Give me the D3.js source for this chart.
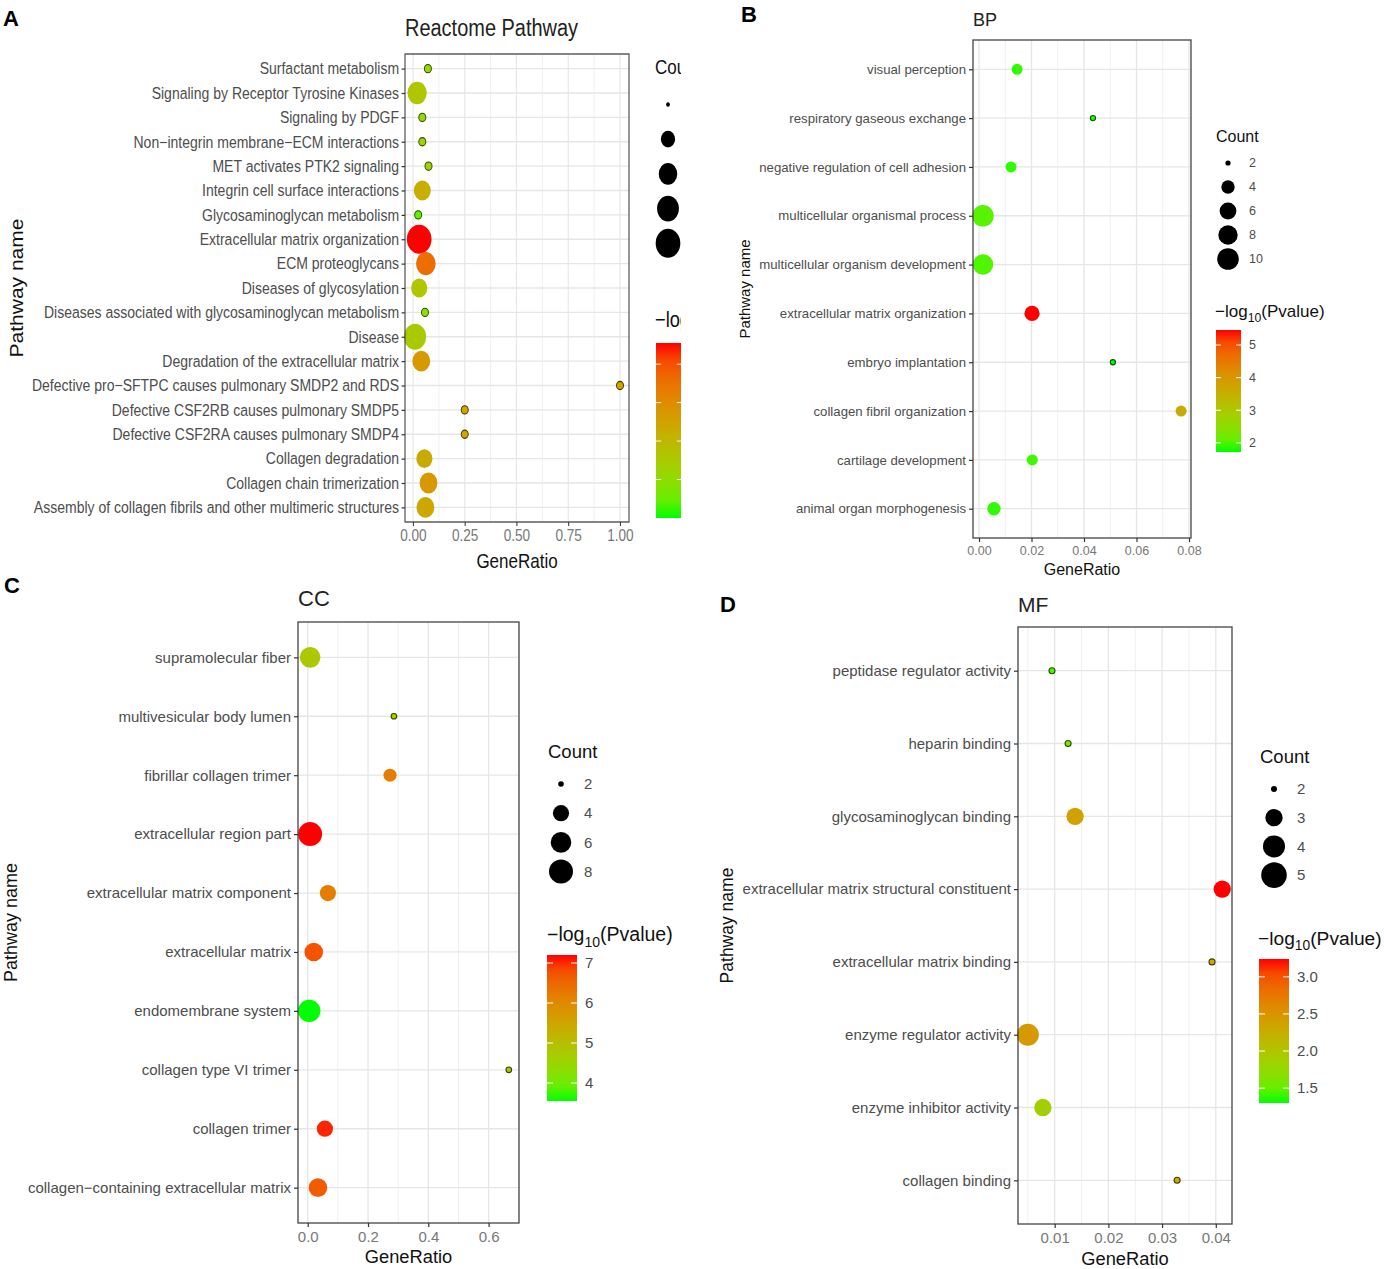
<!DOCTYPE html>
<html>
<head>
<meta charset="utf-8">
<script src="https://cdn.jsdelivr.net/npm/d3@7"></script>
<style>
  body { margin: 0; background: #fff; }
  text { font-family: "Liberation Sans", Arial, sans-serif; }
</style>
</head>
<body>
<div id="chart"></div>
<script>
// ---------- data ----------
// A: Reactome pathways (top to bottom)
const aTerms = ["Surfactant metabolism", "Signaling by Receptor Tyrosine Kinases", "Signaling by PDGF",
  "Non\u2212integrin membrane\u2212ECM interactions", "MET activates PTK2 signaling", "Integrin cell surface interactions",
  "Glycosaminoglycan metabolism", "Extracellular matrix organization", "ECM proteoglycans", "Diseases of glycosylation",
  "Diseases associated with glycosaminoglycan metabolism", "Disease", "Degradation of the extracellular matrix",
  "Defective pro\u2212SFTPC causes pulmonary SMDP2 and RDS", "Defective CSF2RB causes pulmonary SMDP5",
  "Defective CSF2RA causes pulmonary SMDP4", "Collagen degradation", "Collagen chain trimerization",
  "Assembly of collagen fibrils and other multimeric structures"];
const aRatio = [0.072, 0.02, 0.045, 0.045, 0.075, 0.045, 0.025, 0.03, 0.062, 0.03, 0.058, 0.01, 0.04, 1.0, 0.25, 0.25, 0.055, 0.075, 0.06];
const aCount = [11, 32, 11, 11, 11, 26, 11, 50, 33, 24, 11, 41, 28, 11, 11, 11, 24, 28, 28];
const aLogP = [2.1, 2.6, 2.1, 2.1, 2.3, 3.2, 1.4, 5.55, 4.6, 2.6, 1.9, 2.5, 3.7, 3.5, 3.4, 3.4, 3.3, 3.7, 3.4];
const aTicks = [0, 0.25, 0.5, 0.75, 1];
const aCountBreaks = [10, 20, 30, 40, 50];
const aColorTicks = [2, 3, 4, 5];

// B: GO biological process
const bTerms = ["visual perception", "respiratory gaseous exchange", "negative regulation of cell adhesion",
  "multicellular organismal process", "multicellular organism development", "extracellular matrix organization",
  "embryo implantation", "collagen fibril organization", "cartilage development", "animal organ morphogenesis"];
const bRatio = [0.0145, 0.0434, 0.0122, 0.0015, 0.0015, 0.0202, 0.051, 0.077, 0.0203, 0.0057];
const bCount = [3, 2, 3, 10, 9, 5, 2, 3, 3, 4];
const bLogP = [1.8, 1.75, 1.8, 2.0, 1.95, 5.46, 1.72, 3.6, 1.85, 1.8];
const bTicks = [0, 0.02, 0.04, 0.06, 0.08];
const bCountBreaks = [2, 4, 6, 8, 10];
const bColorTicks = [2, 3, 4, 5];

// C: GO cellular component
const cTerms = ["supramolecular fiber", "multivesicular body lumen", "fibrillar collagen trimer", "extracellular region part",
  "extracellular matrix component", "extracellular matrix", "endomembrane system", "collagen type VI trimer",
  "collagen trimer", "collagen\u2212containing extracellular matrix"];
const cRatio = [0.008, 0.286, 0.273, 0.008, 0.067, 0.02, 0.005, 0.667, 0.057, 0.034];
const cCount = [6, 2, 3, 8, 4, 5, 7, 2, 4, 5];
const cLogP = [4.8, 4.65, 6.2, 7.2, 6.2, 6.75, 3.55, 4.8, 7.1, 6.65];
const cTicks = [0, 0.2, 0.4, 0.6];
const cCountBreaks = [2, 4, 6, 8];
const cColorTicks = [4, 5, 6, 7];

// D: GO molecular function
const dTerms = ["peptidase regulator activity", "heparin binding", "glycosaminoglycan binding",
  "extracellular matrix structural constituent", "extracellular matrix binding", "enzyme regulator activity",
  "enzyme inhibitor activity", "collagen binding"];
const dRatio = [0.0095, 0.0125, 0.0138, 0.0412, 0.0393, 0.005, 0.0078, 0.0328];
const dCount = [2, 2, 3, 3, 2, 4, 3, 2];
const dLogP = [1.4, 1.6, 2.37, 3.24, 2.27, 2.46, 1.88, 2.27];
const dTicks = [0.01, 0.02, 0.03, 0.04];
const dCountBreaks = [2, 3, 4, 5];
const dColorTicks = [1.5, 2.0, 2.5, 3.0];

// ---------- drawing ----------
const svg = d3.select("#chart").append("svg")
  .attr("width", 1384).attr("height", 1269);
const defs = svg.append("defs");
const ramp = d3.interpolateLab("#00ff00", "#ff0000");

function minors(ticks) {
  const out = [];
  for (let i = 0; i < ticks.length - 1; i++) out.push((ticks[i] + ticks[i + 1]) / 2);
  return out;
}

function drawPanel(p) {
  const sx = p.sx || 1;
  const X = v => v / sx;   // target px -> local px (panel A is squeezed)
  const outer = svg.append("g");
  if (p.clipX) {
    defs.append("clipPath").attr("id", "clip" + p.id)
      .append("rect").attr("x", 0).attr("y", 0).attr("width", p.clipX).attr("height", 1269);
    outer.attr("clip-path", `url(#clip${p.id})`);
  }
  const g = outer.append("g").attr("transform", `scale(${sx},1)`);
  const [bx0, by0, bx1, by1] = p.box;

  const x = d3.scaleLinear().domain(p.xDomain).range([X(bx0), X(bx1)]);
  const y = d3.scalePoint().domain(p.terms).range([by0, by1]).padding(0.6);
  const col = d3.scaleSequential(ramp).domain(p.colorDomain);
  const [c0, c1] = p.countDomain;
  const rad = c => p.rMin + (p.rMax - p.rMin) * Math.sqrt((c - c0) / (c1 - c0));

  // grid
  g.selectAll(".gmin").data(minors(p.xTicks).concat(p.extraMinor || [])).enter().append("line")
    .attr("x1", d => x(d)).attr("x2", d => x(d)).attr("y1", by0).attr("y2", by1)
    .attr("stroke", "#efefef").attr("stroke-width", 1);
  g.selectAll(".gmaj").data(p.xTicks).enter().append("line")
    .attr("x1", d => x(d)).attr("x2", d => x(d)).attr("y1", by0).attr("y2", by1)
    .attr("stroke", "#e6e6e6").attr("stroke-width", 1.3);
  g.selectAll(".gy").data(p.terms).enter().append("line")
    .attr("x1", X(bx0)).attr("x2", X(bx1)).attr("y1", d => y(d)).attr("y2", d => y(d))
    .attr("stroke", "#e6e6e6").attr("stroke-width", 1.3);

  // points (the smallest ones show a dark rim in the original)
  const pts = p.terms.map((t, i) => ({ t, r: p.ratio[i], c: p.count[i], v: p.logp[i] }));
  g.selectAll(".pt").data(pts).enter().append("circle")
    .attr("cx", d => x(d.r)).attr("cy", d => y(d.t)).attr("r", d => rad(d.c))
    .attr("fill", d => col(d.v))
    .attr("stroke", d => rad(d.c) < 5 ? d3.color(col(d.v)).darker(3) : "none")
    .attr("stroke-width", 1.1);

  // border
  g.append("rect").attr("x", X(bx0)).attr("y", by0)
    .attr("width", X(bx1) - X(bx0)).attr("height", by1 - by0)
    .attr("fill", "none").attr("stroke", "#444").attr("stroke-width", 1.3);

  // axes
  const ay = g.append("g").attr("transform", `translate(${X(bx0)},0)`)
    .call(d3.axisLeft(y).tickSize(4).tickPadding(3));
  const ax = g.append("g").attr("transform", `translate(0,${by1})`)
    .call(d3.axisBottom(x).tickValues(p.xTicks).tickFormat(d3.format(p.fmt)).tickSize(4).tickPadding(4));
  [ay, ax].forEach(a => {
    a.select(".domain").remove();
    a.selectAll(".tick line").attr("stroke", "#333").attr("stroke-width", 1.2);
    a.attr("font-family", null);
  });
  ay.selectAll("text").attr("font-size", p.fsY).attr("fill", "#4d4d4d");
  ax.selectAll("text").attr("font-size", p.fsX).attr("fill", "#777");

  // titles
  g.append("text").attr("x", X(p.titleX)).attr("y", p.titleY + p.fsTitle * 0.35)
    .attr("font-size", p.fsTitle).attr("fill", "#222").text(p.title);
  g.append("text").attr("x", X((bx0 + bx1) / 2)).attr("y", p.xlabY + p.fsXlab * 0.35)
    .attr("text-anchor", "middle").attr("font-size", p.fsXlab).attr("fill", "#111").text("GeneRatio");
  g.append("text")
    .attr("transform", `translate(${X(p.ylabX + p.fsYlab * 0.35)},${(by0 + by1) / 2}) rotate(-90)`)
    .attr("text-anchor", "middle").attr("font-size", p.fsYlab).attr("fill", "#111").text("Pathway name");

  // size legend
  const L = p.countLeg;
  g.append("text").attr("x", X(L.titleX)).attr("y", L.titleY + L.fsTitle * 0.35)
    .attr("font-size", L.fsTitle).attr("fill", "#111").text("Count");
  p.countBreaks.forEach((c, i) => {
    const cy = L.y0 + i * L.dy;
    g.append("circle").attr("cx", X(L.cx)).attr("cy", cy).attr("r", rad(c)).attr("fill", "#000");
    g.append("text").attr("x", X(L.labelX)).attr("y", cy + L.fsLab * 0.35)
      .attr("font-size", L.fsLab).attr("fill", "#4d4d4d").text(c);
  });

  // colour bar legend
  const C = p.colorLeg;
  const tt = g.append("text").attr("x", X(C.titleX)).attr("y", C.titleY + C.fsTitle * 0.35)
    .attr("font-size", C.fsTitle).attr("fill", "#111");
  tt.append("tspan").text("\u2212log");
  tt.append("tspan").attr("dy", C.fsTitle * 0.3).attr("font-size", C.fsTitle * 0.72).text("10");
  tt.append("tspan").attr("dy", -C.fsTitle * 0.3).text("(Pvalue)");

  const grad = defs.append("linearGradient").attr("id", "grad" + p.id)
    .attr("x1", 0).attr("x2", 0).attr("y1", 1).attr("y2", 0);
  d3.range(0, 1.0001, 0.1).forEach(t => {
    grad.append("stop").attr("offset", t).attr("stop-color", ramp(t));
  });
  const cy = d3.scaleLinear().domain(p.colorDomain).range([C.bottom, C.top]);
  g.append("rect").attr("x", X(C.x)).attr("y", C.top)
    .attr("width", X(C.x + C.w) - X(C.x)).attr("height", C.bottom - C.top)
    .attr("fill", `url(#grad${p.id})`);
  p.colorTicks.forEach(v => {
    const yy = cy(v);
    const tl = C.w / 5;
    [[C.x, C.x + tl], [C.x + C.w - tl, C.x + C.w]].forEach(([a, b]) => {
      g.append("line").attr("x1", X(a)).attr("x2", X(b)).attr("y1", yy).attr("y2", yy)
        .attr("stroke", "#fff").attr("stroke-width", 1);
    });
    g.append("text").attr("x", X(C.labelX)).attr("y", yy + C.fsLab * 0.35)
      .attr("font-size", C.fsLab).attr("fill", "#4d4d4d").text(d3.format(p.cfmt)(v));
  });
}

drawPanel({
  id: "A", sx: 0.85, clipX: 681,
  terms: aTerms, ratio: aRatio, count: aCount, logp: aLogP,
  box: [405, 54, 629, 522], xDomain: [-0.0386, 1.0435], xTicks: aTicks, fmt: ".2f",
  fsY: 16.5, fsX: 16, title: "Reactome Pathway", titleX: 405, titleY: 28, fsTitle: 23.5,
  xlabY: 561, fsXlab: 20, ylabX: 16, fsYlab: 21,
  countDomain: [10, 50], rMin: 2.2, rMax: 14.5, countBreaks: aCountBreaks,
  countLeg: { titleX: 655, titleY: 67, cx: 668, y0: 104.5, dy: 34.7, labelX: 690, fsTitle: 20, fsLab: 15 },
  colorDomain: [1.0, 5.55], colorTicks: aColorTicks, cfmt: "d",
  colorLeg: { titleX: 655, titleY: 319, x: 656, w: 26, top: 343, bottom: 518, labelX: 690, fsTitle: 21.5, fsLab: 15 }
});

drawPanel({
  id: "B", terms: bTerms, ratio: bRatio, count: bCount, logp: bLogP,
  box: [973, 40, 1191, 538], xDomain: [-0.00229, 0.08076], xTicks: bTicks, fmt: ".2f",
  fsY: 13.2, fsX: 12.5, title: "BP", titleX: 973, titleY: 20, fsTitle: 18,
  xlabY: 569, fsXlab: 16, ylabX: 745, fsYlab: 15,
  countDomain: [2, 10], rMin: 2.6, rMax: 10.8, countBreaks: bCountBreaks,
  countLeg: { titleX: 1216, titleY: 136, cx: 1228, y0: 163, dy: 24, labelX: 1249, fsTitle: 16, fsLab: 12.5 },
  colorDomain: [1.72, 5.46], colorTicks: bColorTicks, cfmt: "d",
  colorLeg: { titleX: 1215, titleY: 311, x: 1216, w: 25, top: 330, bottom: 452, labelX: 1249, fsTitle: 17, fsLab: 12.5 }
});

drawPanel({
  id: "C", terms: cTerms, ratio: cRatio, count: cCount, logp: cLogP,
  box: [298, 622, 519, 1223], xDomain: [-0.0322, 0.7008], xTicks: cTicks, extraMinor: [0.7], fmt: ".1f",
  fsY: 15, fsX: 15, title: "CC", titleX: 298, titleY: 598, fsTitle: 22,
  xlabY: 1257, fsXlab: 18.3, ylabX: 11, fsYlab: 18,
  countDomain: [2, 8], rMin: 2.8, rMax: 12, countBreaks: cCountBreaks,
  countLeg: { titleX: 548, titleY: 752, cx: 561, y0: 784, dy: 29.2, labelX: 584, fsTitle: 18.5, fsLab: 15 },
  colorDomain: [3.55, 7.2], colorTicks: cColorTicks, cfmt: "d",
  colorLeg: { titleX: 547, titleY: 934, x: 547, w: 30, top: 955, bottom: 1101, labelX: 585, fsTitle: 19.5, fsLab: 15 }
});

drawPanel({
  id: "D", terms: dTerms, ratio: dRatio, count: dCount, logp: dLogP,
  box: [1018, 627, 1232, 1224], xDomain: [0.00317, 0.04302], xTicks: dTicks, extraMinor: [0.005], fmt: ".2f",
  fsY: 15, fsX: 15, title: "MF", titleX: 1018, titleY: 605, fsTitle: 21,
  xlabY: 1259, fsXlab: 18.3, ylabX: 727, fsYlab: 17.5,
  countDomain: [2, 5], rMin: 3, rMax: 12.8, countBreaks: dCountBreaks,
  countLeg: { titleX: 1260, titleY: 757, cx: 1274, y0: 789, dy: 28.7, labelX: 1297, fsTitle: 18.5, fsLab: 15 },
  colorDomain: [1.30, 3.24], colorTicks: dColorTicks, cfmt: ".1f",
  colorLeg: { titleX: 1258, titleY: 938, x: 1259, w: 30, top: 959, bottom: 1103, labelX: 1297, fsTitle: 19.2, fsLab: 15 }
});

// panel letters
[["A", 3, 18], ["B", 741, 14], ["C", 4, 585], ["D", 720, 604]].forEach(([t, lx, ly]) => {
  svg.append("text").attr("x", lx).attr("y", ly + 8).attr("font-size", 22)
    .attr("font-weight", "bold").attr("fill", "#000").text(t);
});
</script>
</body>
</html>
